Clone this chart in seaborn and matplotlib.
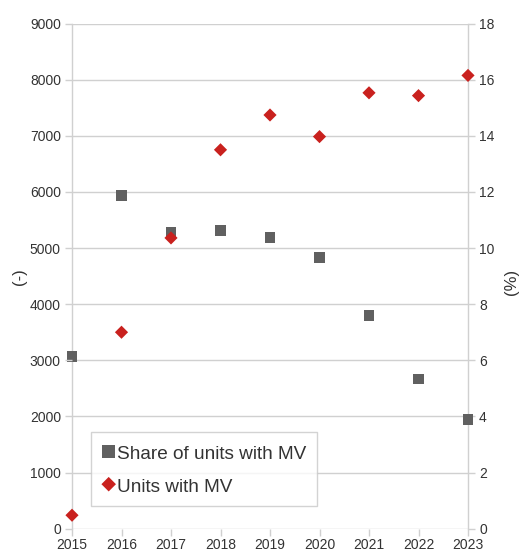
import matplotlib
matplotlib.use("Agg")
import matplotlib.pyplot as plt
import seaborn as sns
import pandas as pd

years = [2015, 2016, 2017, 2018, 2019, 2020, 2021, 2022, 2023]
units_with_mv = [240, 3500, 5180, 6750, 7370, 6985, 7765, 7715, 8075]
share_with_mv = [6.14, 11.88, 10.56, 10.62, 10.37, 9.66, 7.59, 5.33, 3.90]
left_ticks = [0, 1000, 2000, 3000, 4000, 5000, 6000, 7000, 8000, 9000]
right_ticks = [0, 2, 4, 6, 8, 10, 12, 14, 16, 18]

df = pd.DataFrame({"year": years, "units": units_with_mv, "share": share_with_mv})

sns.set_style("white")
plt.rcParams["font.family"] = ["Liberation Sans", "DejaVu Sans"]

RED = "#c9211e"
GRAY = "#606060"
LINE = "#d0d0d0"
TXT = "#333333"

fig = plt.figure(figsize=(5.22, 5.52), dpi=100)
ax = fig.add_axes([72/522, 1-528.7/552, (468-72)/522, (528.7-23.5)/552])
ax2 = ax.twinx()

# gray squares (share, %) on right axis, drawn below
sns.scatterplot(data=df, x="year", y="share", ax=ax2, marker="s", s=58,
                color=GRAY, edgecolor="none", label="Share of units with MV",
                legend=False, clip_on=False, zorder=5)
# red diamonds (units) on left axis
sns.scatterplot(data=df, x="year", y="units", ax=ax, marker="D", s=45,
                color=RED, edgecolor="none", label="Units with MV",
                legend=False, clip_on=False, zorder=5)

ax.set_zorder(ax2.get_zorder() + 1)
ax.patch.set_visible(False)

ax.set_xlim(2015, 2023)
ax.set_ylim(0, 9000)
ax2.set_ylim(0, 18)
ax.set_xticks(years)
ax.set_yticks(left_ticks)
ax2.set_yticks(right_ticks)

ax2.grid(True, axis="y", color=LINE, linewidth=1.0)
ax.grid(False)
ax2.set_axisbelow(True)

for s in ("top", "bottom", "left", "right"):
    ax.spines[s].set_visible(False)
for s in ("top", "bottom"):
    ax2.spines[s].set_visible(False)
for s in ("left", "right"):
    ax2.spines[s].set_color(LINE)
    ax2.spines[s].set_linewidth(1.0)
    ax2.spines[s].set_visible(True)

ax.tick_params(axis="both", direction="out", length=5, width=1, color=LINE,
               labelsize=10, labelcolor=TXT, pad=3)
ax.tick_params(axis="x", bottom=True, pad=1.5)
ax.tick_params(axis="y", left=True)
ax2.tick_params(axis="y", direction="out", length=5, width=1, color=LINE,
                labelsize=10, labelcolor=TXT, right=True, pad=3)

ax.set_xlabel("")
ax.set_ylabel("")
ax2.set_ylabel("")
fig.text(20/522, 1-277/552, "(-)", rotation=90, ha="center", va="center",
         fontsize=12, color=TXT)
fig.text(512/522, 1-282/552, "(%)", rotation=90, ha="center", va="center",
         fontsize=12, color=TXT)

h1, l1 = ax2.get_legend_handles_labels()
h2, l2 = ax.get_legend_handles_labels()
leg = ax.legend(h1 + h2, l1 + l2, loc="lower left", bbox_to_anchor=(0.047, 0.045),
                borderaxespad=0, frameon=True, fancybox=False, fontsize=13.7,
                handletextpad=0.05, handlelength=0.8, handleheight=1.2,
                borderpad=0.55, labelspacing=0.66)
leg.legend_handles[0].set_sizes([90])
leg.legend_handles[1].set_sizes([55])
leg.get_frame().set_edgecolor("#c8c8c8")
leg.get_frame().set_linewidth(1.0)
for t in leg.get_texts():
    t.set_color(TXT)

fig.savefig("out.png", dpi=100)
